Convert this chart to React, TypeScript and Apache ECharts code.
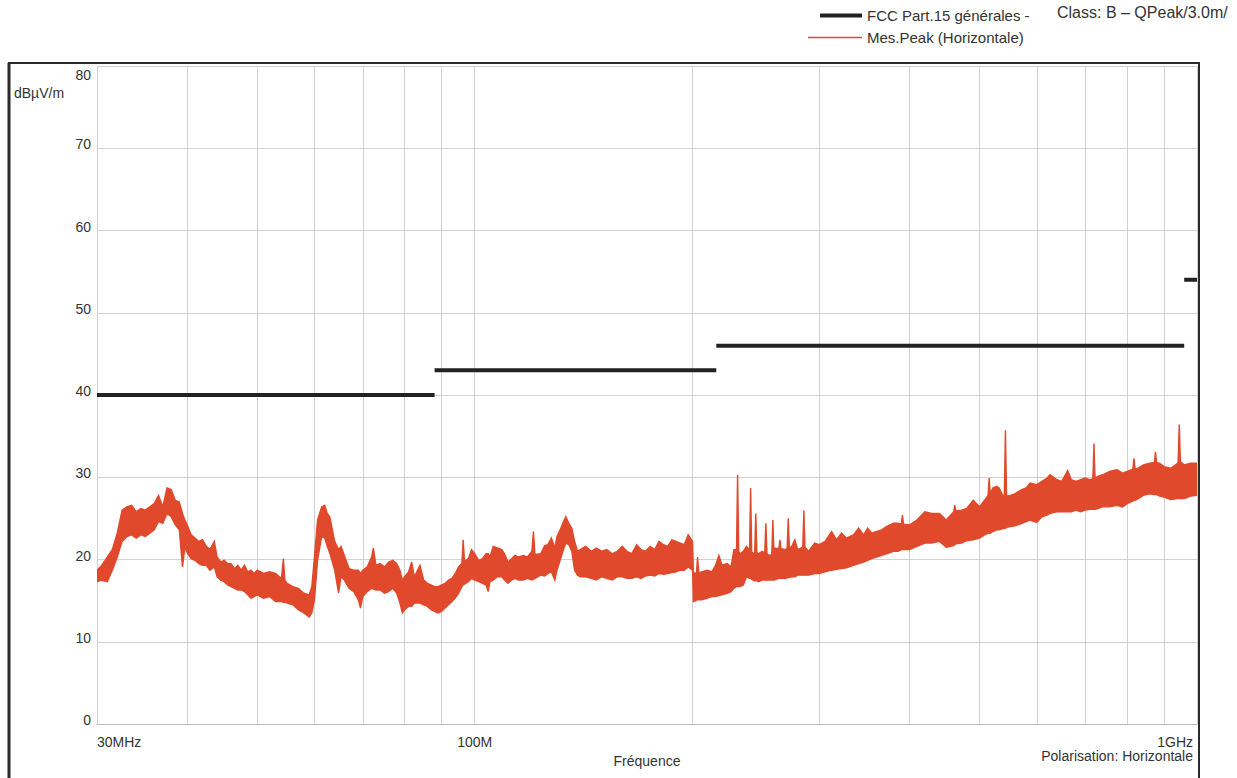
import React, { useEffect, useRef } from 'react';
import * as echarts from 'echarts';

// ---- data ----
const freqMHz = [
  30, 30.4, 31, 31.5, 32, 32.5, 33, 33.5, 34, 34.5, 35, 35.5, 36, 36.5, 37, 37.5, 38, 38.5, 39, 39.4, 39.7,
  40, 40.5, 41, 41.5, 42, 42.5, 43, 43.6, 44, 44.5, 45, 45.5, 46, 46.5, 47, 47.5, 48, 48.5, 49, 49.5,
  50, 51, 52, 53, 54, 54.35, 54.6, 55, 56, 57, 58, 59, 59.5, 60, 60.6, 61.4, 62, 62.5, 63, 64, 64.8, 65.3,
  66, 67, 68, 69, 69.5, 70, 71, 72, 72.4, 73, 74, 75, 76, 77, 78, 78.8, 79.4, 80, 81, 81.8, 82.5, 84, 85,
  86, 87, 88, 89, 90, 91, 92, 93, 94, 95, 96, 96.4, 96.8, 98, 99, 100, 101.3, 102.5, 103.7, 104.4, 105,
  106.1, 107.5, 109, 110, 111.2, 112.5, 113.7, 115, 116.8, 118.3, 120, 120.6, 121.2, 123.4, 125, 126.3,
  127.7, 129.1, 130, 131.3, 132.7, 133.7, 135, 136.3, 137.5, 138.8, 140, 142.4, 145, 147.4, 150, 152.4,
  155, 157.6, 160, 162.5, 165, 167.6, 170, 172.4, 175, 177.5, 180, 182.5, 185, 187.5, 190, 192.5, 195,
  197.5, 200.3, 200.8, 202.5, 202.8, 203.5, 204.2, 206.2, 210, 213, 215.5, 217.8, 220, 223.6, 226.4,
  228.5, 230.4, 231.2, 232.0, 232.9, 235.5, 237.8, 240.2, 241, 241.8, 242.9, 244.15, 245, 245.85, 247.1,
  250, 252.1, 253, 253.9, 255.6, 257.8, 258.7, 259.6, 260, 263.7, 264.6, 265.5, 270, 270.75, 271.7, 272.65,
  274.8, 277.5, 280, 284.6, 285.6, 286.6, 290, 295.6, 300, 305.5, 312, 317, 322, 327, 334.5, 340, 345.5,
  350, 354.5, 360, 366, 371.5, 380, 385.6, 389.6, 391, 392.4, 400, 409.5, 420, 429.3, 440, 449.6, 460.4,
  462, 463.6, 472, 480, 490, 500, 508, 513.7, 515.5, 517.3, 521.5, 528, 532, 540, 541.1, 543, 544.9, 551.5,
  560, 572, 580, 587.5, 600, 610, 620, 626, 640, 650, 662, 670, 680, 690, 700, 710, 717.5, 720, 722.5,
  729, 740, 757, 775, 789, 800, 815.1, 818, 820.9, 829, 843, 860, 873, 876, 879, 888, 900, 920, 940, 941.7,
  945, 948.3, 960, 980, 1000,
];

const peakLow = [
  17.3, 17.5, 17.3, 18.7, 20.3, 22.2, 22.8, 23.0, 22.6, 23.0, 22.8, 23.2, 23.6, 24.6, 24.4, 25.6, 25.2, 24.2, 23.6, 19.1, 21.5,
  20.8, 20.1, 19.9, 19.5, 19.3, 19.3, 18.7, 19.1, 17.9, 17.5, 17.3, 16.9, 16.7, 16.5, 16.3, 16.3, 16.1, 15.7, 15.3, 15.5,
  15.7, 15.3, 15.5, 14.9, 14.9, 14.8, 14.8, 14.7, 14.5, 13.9, 13.5, 13.0, 13.5, 15.1, 19.9, 22.8, 22.6, 21.6, 20.8, 18.7, 15.9, 17.9,
  17.5, 16.5, 16.1, 15.1, 14.1, 15.5, 16.1, 16.5, 16.4, 16.3, 16.3, 15.9, 16.1, 16.5, 15.9, 14.7, 13.5, 13.9, 14.3, 14.3, 14.7, 14.7, 14.5,
  14.3, 13.9, 13.7, 13.5, 13.7, 14.1, 14.5, 14.9, 15.3, 15.9, 16.7, 16.9, 17.0, 17.3, 17.7, 17.5, 17.3, 17.1, 16.9, 16.1, 17.3,
  17.5, 17.9, 17.9, 17.5, 17.1, 17.5, 17.7, 17.5, 17.5, 17.7, 17.5, 17.6, 17.7, 18.1, 18.0, 18.3,
  18.5, 17.5, 18.7, 19.9, 21.2, 22.0, 21.8, 21.0, 18.7, 18.1, 17.9, 17.9, 17.7, 17.5, 17.9, 17.7,
  17.5, 17.9, 17.9, 17.7, 17.7, 17.9, 17.7, 18.0, 18.1, 18.0, 18.3, 18.2, 18.3, 18.4, 18.5, 18.7, 18.7,
  19.1, 18.7, 14.9, 15.0, 15.1, 15.1, 15.1, 15.1, 15.3, 15.5, 15.5, 15.6, 15.7, 15.9, 16.1,
  16.5, 16.7, 16.7, 16.7, 16.7, 16.9, 17.9, 17.7, 17.7, 17.6, 17.5, 17.4, 17.4, 17.4, 17.3,
  17.5, 17.5, 17.5, 17.5, 17.5, 17.5, 17.5, 17.5, 17.5, 17.7, 17.7, 17.7, 17.7, 17.8, 17.8, 17.8,
  17.9, 17.9, 18.1, 18.1, 18.1, 18.1, 18.1, 18.3, 18.3, 18.5, 18.7, 18.8, 18.9, 19.0, 19.3, 19.5, 19.7,
  19.9, 20.1, 20.3, 20.5, 20.7, 21.0, 21.0, 21.2, 21.2, 21.2, 21.2, 21.6, 22.0, 22.0, 22.2, 21.5, 21.7,
  21.8, 21.9, 22.0, 22.3, 22.4, 22.6, 23.0, 23.2, 23.2, 23.2, 23.4, 23.6, 23.6, 23.8, 23.8, 23.8, 23.9, 24.0,
  24.1, 24.4, 24.6, 24.8, 24.5, 25.2, 25.4, 25.6, 25.8, 25.8, 25.8, 25.8, 26.0, 25.8, 26.0, 26.1, 26.1, 26.1, 26.1,
  26.2, 26.4, 26.4, 26.6, 26.4, 26.8, 27.1, 27.2, 27.2, 27.4, 27.8, 28.0, 27.9, 27.9, 27.9, 27.7, 27.6, 27.3, 27.4, 27.4,
  27.4, 27.4, 27.4, 27.7, 27.8,
];

const peakHigh = [
  18.7, 19.2, 20.3, 21.2, 23.2, 26.0, 26.4, 26.6, 25.8, 26.2, 26.0, 26.4, 26.8, 27.8, 26.4, 28.7, 28.5, 27.2, 27.0, 25.6, 24.8,
  24.2, 23.0, 22.6, 22.2, 22.4, 21.6, 21.2, 22.2, 20.3, 19.7, 19.9, 19.5, 19.5, 18.9, 19.3, 18.7, 19.3, 18.5, 18.7, 18.3,
  18.7, 18.3, 18.5, 18.3, 17.7, 20.1, 17.5, 17.1, 16.7, 16.5, 15.9, 15.7, 16.7, 20.3, 24.8, 26.4, 26.6, 25.6, 25.2, 22.2, 21.2, 21.6,
  20.5, 18.9, 18.7, 18.7, 18.3, 18.7, 19.1, 20.3, 21.4, 19.3, 19.5, 19.1, 19.7, 19.9, 19.5, 18.7, 17.5, 17.9, 18.5, 19.7, 17.9, 19.3, 17.5,
  17.1, 16.9, 16.7, 16.7, 16.9, 17.1, 17.5, 17.7, 18.3, 19.1, 19.5, 22.4, 19.8, 20.1, 21.2, 20.7, 19.9, 20.1, 20.7, 20.7, 20.3,
  21.6, 21.4, 21.2, 20.7, 19.7, 20.1, 20.5, 20.3, 20.5, 20.3, 21.0, 23.4, 20.6, 20.7, 21.7, 21.8,
  22.6, 21.4, 22.8, 23.6, 24.6, 25.2, 24.4, 23.8, 22.2, 21.0, 21.2, 21.6, 21.0, 21.4, 21.0, 21.2,
  20.7, 21.0, 21.6, 21.0, 20.7, 21.8, 21.2, 21.0, 21.6, 21.2, 22.2, 21.8, 21.6, 22.4, 22.2, 22.0, 21.8,
  23.0, 22.2, 18.3, 18.4, 18.4, 20.3, 18.4, 18.5, 18.7, 18.5, 19.3, 20.5, 19.3, 19.5, 19.1,
  21.2, 21.2, 30.3, 21.0, 20.7, 21.0, 21.6, 21.2, 28.7, 21.0, 20.7, 20.8, 25.6, 20.8, 20.7,
  21.0, 20.8, 24.4, 20.7, 20.5, 20.6, 24.8, 20.8, 21.4, 21.3, 22.4, 21.3, 21.2, 21.4, 25.0, 21.4,
  21.6, 22.4, 21.2, 21.5, 26.0, 21.5, 21.0, 22.0, 21.8, 22.2, 23.4, 22.4, 23.2, 22.6, 23.0, 23.8, 23.0,
  23.8, 23.2, 23.4, 23.6, 24.0, 24.4, 24.4, 24.3, 25.4, 24.3, 24.2, 24.8, 25.8, 25.6, 25.6, 24.8, 25.8,
  26.6, 25.9, 26.0, 26.2, 27.2, 26.4, 27.2, 27.8, 29.9, 28.0, 28.7, 28.9, 28.7, 27.6, 27.7, 35.7, 27.7, 27.8,
  28.0, 28.5, 28.7, 29.3, 29.1, 29.5, 29.9, 30.3, 29.7, 29.5, 30.8, 29.7, 29.5, 29.7, 29.9, 29.7, 29.8, 34.1, 29.9,
  30.1, 30.3, 30.7, 30.9, 30.5, 30.7, 31.0, 32.3, 31.0, 31.1, 31.5, 31.7, 31.8, 33.1, 31.8, 31.7, 31.3, 31.1, 31.7, 31.9,
  36.4, 31.9, 31.5, 31.7, 31.7,
];

// FCC Part 15 class B limit steps
const limitStart = [30, 88, 216, 960];
const limitEnd = [88, 216, 960, 1000];
const limitLevel = [40, 43, 46, 54];

// vertical grid lines (MHz)
const gridFreqs = [30, 40, 50, 60, 70, 80, 90, 100, 200, 300, 400, 500, 600, 700, 800, 900, 1000];

const xTickLabels: Record<number, string> = { 30: '{a|30MHz}', 100: '{a|100M}', 1000: '{g|1GHz}' };

const LIMIT_NAME = 'FCC Part.15 générales -';
const PEAK_NAME = 'Mes.Peak (Horizontale)';
const RED = '#e0492b';
const BLACK = '#222222';
const GRID = '#d2d2d2';
const TXT = '#333333';
const FONT = '"Liberation Sans", Arial, Helvetica, sans-serif';

export default function App() {
  const ref = useRef<HTMLDivElement>(null);

  useEffect(() => {
    const chart = echarts.init(ref.current as HTMLDivElement, null, { renderer: 'svg' });

    const limitData: any[] = [];
    limitStart.forEach((s, i) => {
      if (i > 0) limitData.push([s, '-']);
      limitData.push([s, limitLevel[i]]);
      limitData.push([limitEnd[i], limitLevel[i]]);
    });

    const bandData = freqMHz.map((f, i) => [f, peakLow[i], peakHigh[i]]);

    const option: any = {
      animation: false,
      backgroundColor: '#ffffff',
      textStyle: { fontFamily: FONT },
      grid: { left: 97, top: 66, width: 1100, height: 658, containLabel: false },
      legend: [
        {
          data: [{ name: LIMIT_NAME, icon: 'rect' }],
          left: 820,
          top: 8,
          padding: 0,
          itemWidth: 42,
          itemHeight: 4,
          selectedMode: false,
          textStyle: { fontSize: 15, color: TXT, fontFamily: FONT },
        },
        {
          data: [{ name: PEAK_NAME, icon: 'rect' }],
          left: 808,
          top: 30,
          padding: 0,
          itemWidth: 54,
          itemHeight: 1.5,
          selectedMode: false,
          textStyle: { fontSize: 15, color: TXT, fontFamily: FONT },
        },
      ],
      xAxis: {
        type: 'log',
        logBase: 10,
        min: 30,
        max: 1000,
        axisLine: { show: true, lineStyle: { color: '#b8b8b8', width: 1 } },
        axisTick: { show: false },
        splitLine: { show: false },
        axisLabel: {
          show: true,
          margin: 11,
          fontSize: 14,
          color: TXT,
          fontFamily: FONT,
          showMinLabel: true,
          showMaxLabel: true,
          hideOverlap: false,
          alignMinLabel: 'left',
          alignMaxLabel: 'right',
          formatter: (v: number) => xTickLabels[Math.round(v)] || '',
          rich: {
            a: { fontSize: 14, color: TXT, fontFamily: FONT },
            g: { fontSize: 14, color: TXT, fontFamily: FONT, padding: [0, 4, 0, 0] },
          },
        },
        name: 'Fréquence',
        nameLocation: 'middle',
        nameGap: 26,
        nameTextStyle: { fontSize: 14, color: TXT, fontFamily: FONT },
      },
      yAxis: {
        type: 'value',
        min: 0,
        max: 80,
        interval: 10,
        axisLine: { show: false },
        axisTick: { show: false },
        splitLine: { show: true, lineStyle: { color: GRID, width: 1 } },
        axisLabel: {
          margin: 6,
          formatter: (v: number) => (v === 80 ? `{top|${v}}` : `{n|${v}}`),
          rich: {
            n: { fontSize: 14, color: TXT, fontFamily: FONT, padding: [0, 0, 8, 0] },
            top: { fontSize: 14, color: TXT, fontFamily: FONT, padding: [18, 0, 0, 0] },
          },
        },
      },
      series: [
        {
          name: PEAK_NAME,
          type: 'custom',
          z: 3,
          clip: true,
          itemStyle: { color: RED },
          encode: { x: 0, y: [1, 2] },
          data: bandData,
          renderItem: (params: any, api: any) => {
            if (params.dataIndex !== 0) return null;
            const up: number[][] = [];
            const lo: number[][] = [];
            for (let i = 0; i < freqMHz.length; i++) {
              up.push(api.coord([freqMHz[i], peakHigh[i]]));
              lo.push(api.coord([freqMHz[i], peakLow[i]]));
            }
            return {
              type: 'polygon',
              shape: { points: up.concat(lo.reverse()) },
              style: { fill: RED, stroke: RED, lineWidth: 1.4, lineJoin: 'miter' },
            };
          },
          markLine: {
            silent: true,
            z: 1,
            symbol: ['none', 'none'],
            label: { show: false },
            lineStyle: { color: GRID, width: 1, type: 'solid' },
            emphasis: { disabled: true },
            data: gridFreqs.map((f) => ({ xAxis: f })),
          },
        },
        {
          name: LIMIT_NAME,
          type: 'line',
          z: 4,
          showSymbol: false,
          symbol: 'none',
          connectNulls: false,
          itemStyle: { color: BLACK },
          lineStyle: { color: BLACK, width: 4, cap: 'butt' },
          data: limitData,
        },
      ],
      graphic: [
        {
          type: 'rect',
          silent: true,
          z: 10,
          shape: { x: 9, y: 63, width: 1190, height: 730 },
          style: { fill: 'none', stroke: '#2a2a2a', lineWidth: 2 },
        },
        {
          type: 'line',
          silent: true,
          z: 10,
          shape: { x1: 9, y1: 63, x2: 9, y2: 800 },
          style: { stroke: '#2a2a2a', lineWidth: 3 },
        },
        {
          type: 'text',
          x: 14,
          y: 93,
          silent: true,
          style: { text: 'dBµV/m', fontSize: 14, fontFamily: FONT, fill: TXT, align: 'left', verticalAlign: 'middle' },
        },
        {
          type: 'text',
          x: 1193,
          y: 756,
          silent: true,
          style: {
            text: 'Polarisation: Horizontale',
            fontSize: 14,
            fontFamily: FONT,
            fill: TXT,
            align: 'right',
            verticalAlign: 'middle',
          },
        },
        {
          type: 'text',
          x: 1057,
          y: 12,
          silent: true,
          style: {
            text: 'Class: B – QPeak/3.0m/',
            fontSize: 16,
            fontFamily: FONT,
            fill: TXT,
            align: 'left',
            verticalAlign: 'middle',
          },
        },
      ],
    };

    chart.setOption(option);
    return () => chart.dispose();
  }, []);

  return (
    <div
      ref={ref}
      style={{ position: 'fixed', left: 0, top: 0, width: 1237, height: 778, background: '#ffffff' }}
    />
  );
}
